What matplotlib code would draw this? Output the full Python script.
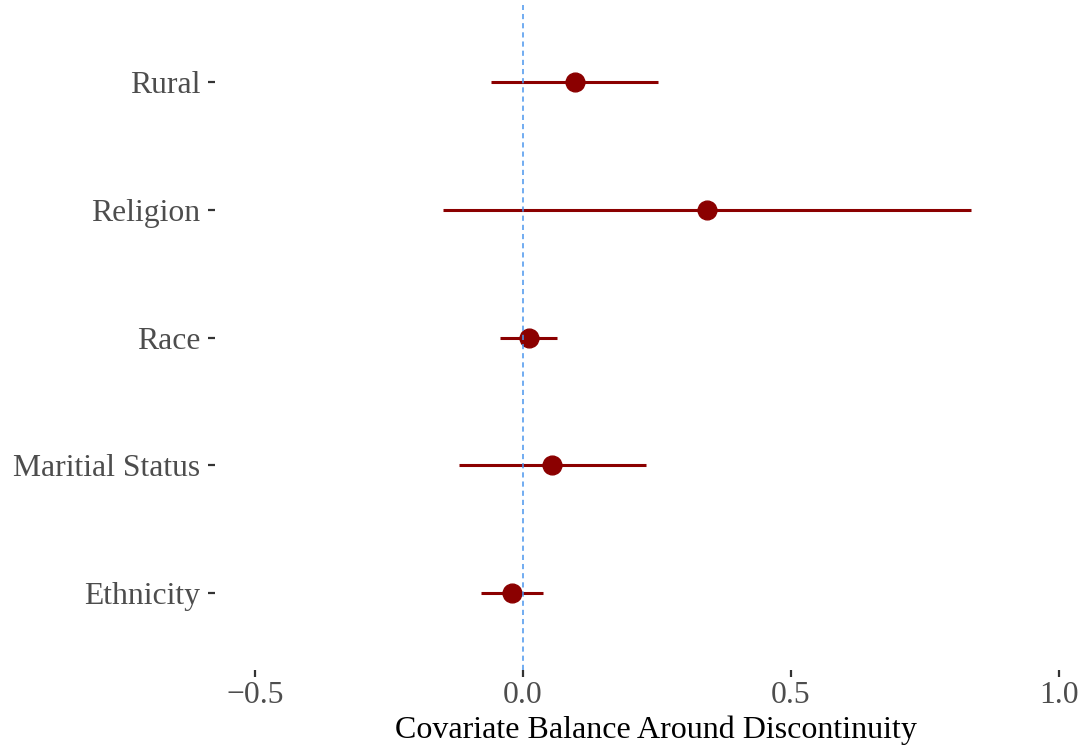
import numpy as np
import matplotlib
matplotlib.use('Agg')
import matplotlib.pyplot as plt

plt.rcParams['font.family'] = ['Liberation Serif', 'DejaVu Serif']

# data (top to bottom in the chart)
labels = ['Rural', 'Religion', 'Race', 'Maritial Status', 'Ethnicity']
est = [0.097, 0.343, 0.011, 0.054, -0.021]
lo = [-0.060, -0.149, -0.043, -0.119, -0.078]
hi = [0.252, 0.836, 0.063, 0.229, 0.037]

fig = plt.figure(figsize=(10.85, 7.46), dpi=100)
ax = fig.add_axes([0.198, 0.102, 0.813, 0.891])

ypos = np.arange(len(labels))[::-1] + 1
ax.hlines(ypos, lo, hi, color='#8B0000', lw=2.2, zorder=2)
ax.plot(est, ypos, 'o', color='#8B0000', ms=13.5, zorder=3)
ax.axvline(0, color='#4A96EE', lw=1.1, ls=(0, (3.4, 2.6)), zorder=4)

ax.set_ylim(0.4, 5.6)
ax.set_xlim(-0.575, 1.071)
ax.set_yticks(ypos)
ax.set_yticklabels(labels)
ax.set_xticks([-0.5, 0.0, 0.5, 1.0])
ax.set_xticklabels(['\u22120.5', '0.0', '0.5', '1.0'])

for s in ax.spines.values():
    s.set_visible(False)
ax.tick_params(axis='both', colors='#333333', labelcolor='#4D4D4D',
               labelsize=22.8, length=5, width=1.6)
ax.tick_params(axis='y', pad=5.5)
ax.tick_params(axis='x', pad=3)
ax.set_xlabel('Covariate Balance Around Discontinuity', fontsize=23,
              color='black', labelpad=4)

fig.savefig('out.png', dpi=100)
